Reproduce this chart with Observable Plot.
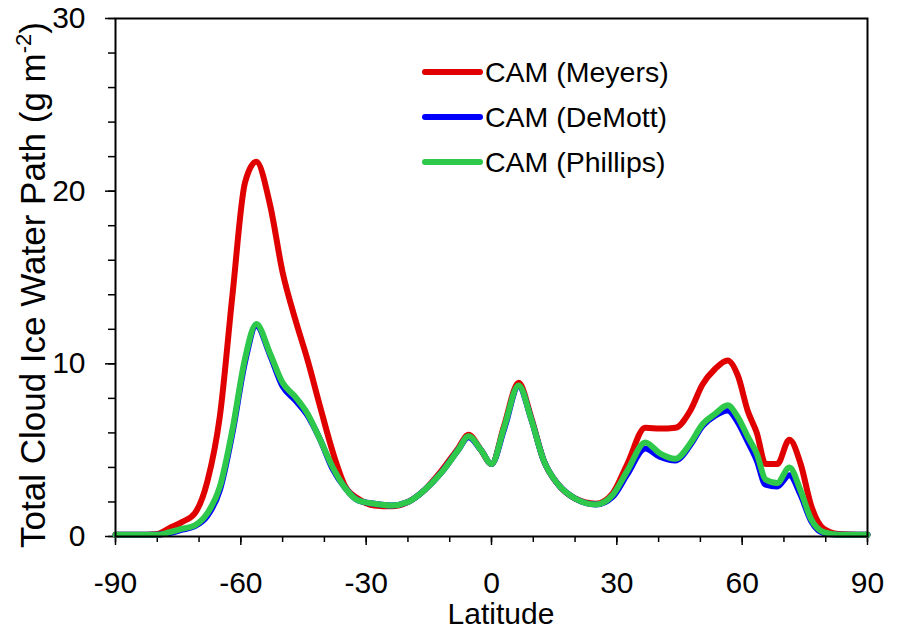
<!DOCTYPE html>
<html>
<head>
<meta charset="utf-8">
<script src="https://cdn.jsdelivr.net/npm/d3@7"></script>
<script src="https://cdn.jsdelivr.net/npm/@observablehq/plot@0.6"></script>
<style>
  html, body { margin: 0; padding: 0; background: #fff; }
</style>
</head>
<body>
<div id="chart"></div>
<script>
// Latitude grid (degrees)
const lat = [-90, -85, -80, -77, -74, -71, -68, -65, -62, -59, -56.3, -53, -50, -47, -44, -41, -38, -35, -32, -28, -24, -20, -16, -12, -8, -5.5, -2.5, 0, 3, 6.5, 9.5, 12.5, 16, 20, 25, 29, 32.5, 36.8, 40.4, 44, 47.6, 50.5, 53.5, 56.5, 59, 61.3, 63.5, 65.6, 68.4, 71.3, 74, 76.5, 79.5, 83, 90];

// Total cloud ice water path (g m^-2)
const meyers = [0.1, 0.1, 0.15, 0.5, 0.85, 1.35, 3.2, 7.0, 14.0, 20.5, 21.7, 19.2, 15.3, 12.6, 10.2, 7.5, 4.9, 2.9, 2.2, 1.8, 1.75, 2.0, 2.7, 3.8, 5.1, 5.9, 5.0, 4.2, 6.4, 8.9, 6.9, 4.4, 3.0, 2.2, 1.9, 2.5, 4.2, 6.3, 6.25, 6.3, 7.3, 8.8, 9.7, 10.2, 9.3, 7.3, 6.0, 4.2, 4.2, 5.6, 4.2, 1.8, 0.45, 0.15, 0.1];
const demott = [0.1, 0.1, 0.1, 0.2, 0.4, 0.6, 1.2, 2.7, 6.0, 10.1, 12.2, 10.5, 8.7, 7.9, 7.0, 5.6, 3.9, 2.8, 2.1, 1.9, 1.8, 2.0, 2.7, 3.7, 5.0, 5.75, 5.0, 4.2, 6.2, 8.7, 6.8, 4.4, 3.0, 2.2, 1.85, 2.3, 3.6, 5.1, 4.6, 4.4, 5.3, 6.4, 7.0, 7.3, 6.6, 5.5, 4.4, 3.0, 2.9, 3.55, 2.4, 0.9, 0.2, 0.1, 0.1];
const phillips = [0.1, 0.1, 0.1, 0.25, 0.45, 0.65, 1.35, 2.9, 6.2, 10.3, 12.3, 10.6, 8.9, 8.1, 7.1, 5.6, 4.0, 2.8, 2.1, 1.9, 1.8, 2.0, 2.7, 3.7, 5.0, 5.8, 5.0, 4.2, 6.3, 8.75, 6.8, 4.4, 3.0, 2.2, 1.85, 2.4, 3.8, 5.45, 4.8, 4.5, 5.4, 6.5, 7.1, 7.6, 6.9, 5.8, 4.8, 3.3, 3.1, 4.0, 2.65, 1.0, 0.25, 0.1, 0.1];

const seriesNames = ["CAM (Meyers)", "CAM (DeMott)", "CAM (Phillips)"];
const seriesColors = ["#e00000", "#0000ff", "#2ec84b"];
const seriesValues = [meyers, demott, phillips];

const xMajorTicks = [-90, -60, -30, 0, 30, 60, 90];
const xMinorTicks = d3.range(-90, 91, 10);
const yMajorTicks = [0, 10, 20, 30];
const yMinorTicks = d3.range(0, 31, 2);

const xTitle = "Latitude";
const yTitle = "Total Cloud Ice Water Path (g m";
const yTitleSup = "-2";
const yTitleEnd = ")";

const rows = [];
seriesNames.forEach((name, i) => {
  lat.forEach((la, j) => rows.push({series: name, lat: la, value: seriesValues[i][j]}));
});

const FONT = "'Liberation Sans', Arial, Helvetica, sans-serif";

const svg = Plot.plot({
  width: 899,
  height: 630,
  marginLeft: 115,
  marginRight: 32,
  marginTop: 18,
  marginBottom: 94,
  style: {fontFamily: FONT, fontSize: "30px", color: "#000", background: "#fff", overflow: "visible"},
  x: {domain: [-90, 90]},
  y: {domain: [0, 30]},
  color: {domain: seriesNames, range: seriesColors},
  marks: [
    Plot.axisX({ticks: xMinorTicks, tickSize: 6, text: null, label: null, strokeWidth: 1.5}),
    Plot.axisX({ticks: xMajorTicks, tickSize: 9, tickPadding: 26, tickFormat: d => String(d), label: null, strokeWidth: 1.5, fontSize: 30}),
    Plot.axisY({ticks: yMinorTicks, tickSize: 7, text: null, label: null, strokeWidth: 1.5}),
    Plot.axisY({ticks: yMajorTicks, tickSize: 10, tickPadding: 20, label: null, strokeWidth: 1.5, fontSize: 30}),
    Plot.line(rows, {x: "lat", y: "value", z: "series", stroke: "series", strokeWidth: 6, curve: "monotone-x", strokeLinejoin: "round", strokeLinecap: "round"}),
    Plot.frame({stroke: "#000", strokeWidth: 2})
  ]
});

const s = d3.select(svg);

// Axis titles
s.append("text")
  .attr("x", 501).attr("y", 624)
  .attr("text-anchor", "middle")
  .attr("font-family", FONT).attr("font-size", 30).attr("fill", "#000")
  .text(xTitle);

const yt = s.append("text")
  .attr("transform", "translate(45,285) rotate(-90)")
  .attr("text-anchor", "middle")
  .attr("font-family", FONT).attr("font-size", 35).attr("fill", "#000");
yt.append("tspan").text(yTitle);
yt.append("tspan").attr("font-size", 22).attr("dy", -14).text(yTitleSup);
yt.append("tspan").attr("dy", 14).text(yTitleEnd);

// Legend
const lg = s.append("g");
seriesNames.forEach((name, i) => {
  const y = 72 + i * 45;
  lg.append("line").attr("x1", 425).attr("x2", 480).attr("y1", y).attr("y2", y)
    .attr("stroke", seriesColors[i]).attr("stroke-width", 6).attr("stroke-linecap", "round");
  lg.append("text").attr("x", 485).attr("y", y + 10)
    .attr("text-anchor", "start")
    .attr("font-family", FONT).attr("font-size", 28.5).attr("fill", "#000")
    .text(name);
});

document.getElementById("chart").appendChild(svg);
</script>
</body>
</html>
